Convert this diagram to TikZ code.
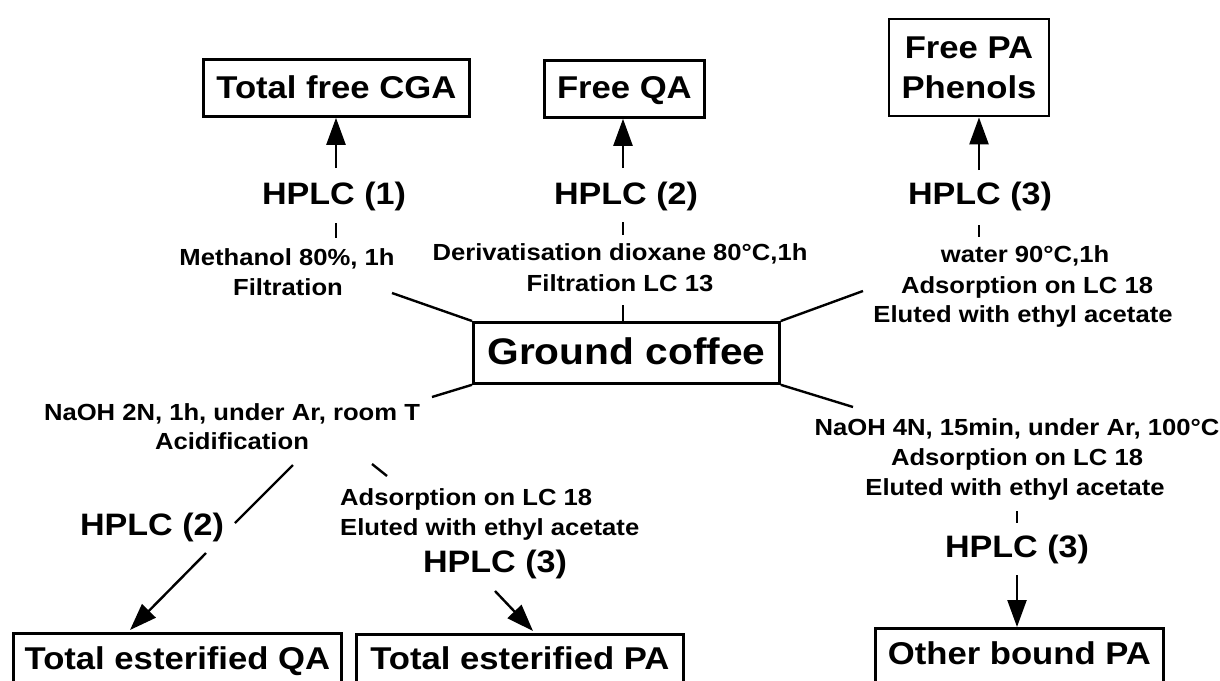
\documentclass[tikz,border=0pt]{standalone}
\usepackage{fontspec}
\setmainfont{Liberation Sans}[FakeStretch=1.1]
\usetikzlibrary{arrows.meta}
\begin{document}
\begin{tikzpicture}[x=1pt,y=-1pt,
  boxtext/.style={font=\fontsize{31.5}{40}\selectfont\bfseries},
  result/.style={draw, line width=2.8pt, inner sep=0pt, anchor=north west, boxtext},
  hplc/.style={font=\fontsize{31}{36}\selectfont\bfseries, inner sep=0pt, anchor=base},
  cond/.style={font=\fontsize{23.3}{28}\selectfont\bfseries, inner sep=0pt, anchor=base},
  link/.style={line width=2.4pt},
  arr/.style={line width=2.4pt, -{Triangle[length=27pt,width=19pt]}}]
\useasboundingbox (0,0) rectangle (1220,680);
\clip (0,0) rectangle (1220,680);
\fill[white] (0,0) rectangle (1220,680);

% central sample
\node[draw, line width=2.8pt, inner sep=0pt, anchor=north west,
      minimum width=306pt, text height=42pt, text depth=19pt,
      font=\fontsize{37}{44}\selectfont\bfseries] (gc) at (472,321) {Ground coffee};

% result boxes
\node[result, minimum width=266pt, text height=39pt, text depth=18pt] (tfc) at (202,58) {Total free CGA};
\node[result, minimum width=160pt, text height=38pt, text depth=19pt] (fqa) at (543,59) {Free QA};
\node[result, minimum width=160pt, minimum height=97pt, align=center, anchor=center] (fpa) at (969,67.5) {Free PA\\Phenols};
\node[result, minimum width=328pt, text height=36pt, text depth=34pt] (teqa) at (12,632) {Total esterified QA};
\node[result, minimum width=327pt, text height=35pt, text depth=34pt] (tepa) at (355,633) {Total esterified PA};
\node[result, minimum width=288pt, text height=36pt, text depth=39pt] (obpa) at (874,627) {Other bound PA};

% analysis labels
\node[hplc] (h1) at (334,204) {HPLC (1)};
\node[hplc] (h2) at (626,204) {HPLC (2)};
\node[hplc] (h3) at (980,204) {HPLC (3)};
\node[hplc] (hb2) at (152,535) {HPLC (2)};
\node[hplc] (hb3) at (495,572) {HPLC (3)};
\node[hplc] (hr3) at (1017,557) {HPLC (3)};

% extraction conditions
\node[cond] (m1) at (287,265) {Methanol 80\%, 1h};
\node[cond] (m2) at (288,295) {Filtration};
\node[cond] (d1) at (620,260) {Derivatisation dioxane 80°C,1h};
\node[cond] (d2) at (620,291) {Filtration LC 13};
\node[cond] (w1) at (1025,262) {water 90°C,1h};
\node[cond] (w2) at (1027,293) {Adsorption on LC 18};
\node[cond] (w3) at (1023,322) {Eluted with ethyl acetate};
\node[cond] (n1) at (232,420) {NaOH 2N, 1h, under Ar, room T};
\node[cond] (n2) at (232,449) {Acidification};
\node[cond, anchor=base west] (a1) at (340,505) {Adsorption on LC 18};
\node[cond, anchor=base west] (a2) at (340,535) {Eluted with ethyl acetate};
\node[cond] (r1) at (1017,435) {NaOH 4N, 15min, under Ar, 100°C};
\node[cond] (r2) at (1017,465) {Adsorption on LC 18};
\node[cond] (r3) at (1015,495) {Eluted with ethyl acetate};

% connector end points
\coordinate (cNW) at (392,293);
\coordinate (cN) at (623,305);
\coordinate (cNE) at (863,291);
\coordinate (cSW) at (432,397);
\coordinate (cSE) at (853,407);
\coordinate (t1a) at (336,223);  \coordinate (t1b) at (336,238);
\coordinate (t2a) at (623,222);  \coordinate (t2b) at (623,235);
\coordinate (t3a) at (979,225);  \coordinate (t3b) at (979,237);
\coordinate (s1) at (336,168);
\coordinate (s2) at (623,168);
\coordinate (s3) at (979,170);
\coordinate (bl1) at (293,465);  \coordinate (bl2) at (235,523);
\coordinate (bl3) at (206,553);  \coordinate (bl4) at (130,630);
\coordinate (bm1) at (372,464);  \coordinate (bm2) at (387,476);
\coordinate (bm3) at (495,591);  \coordinate (bm4) at (533,631);
\coordinate (br1) at (1017,511); \coordinate (br2) at (1017,523);
\coordinate (br3) at (1017,575);

% spokes from the sample
\draw[link] (gc.north west) -- (cNW);
\draw[link] (cN) -- (cN |- gc.north);
\draw[link] (gc.north east) -- (cNE);
\draw[link] (gc.south west) -- (cSW);
\draw[link] (gc.south east) -- (cSE);

% free fractions
\draw[link] (t1a) -- (t1b);
\draw[link] (t2a) -- (t2b);
\draw[link] (t3a) -- (t3b);
\draw[arr] (s1) -- (s1 |- tfc.south);
\draw[arr] (s2) -- (s2 |- fqa.south);
\draw[arr] (s3) -- (s3 |- fpa.south);

% bound fractions
\draw[link] (bl1) -- (bl2);
\draw[arr] (bl3) -- (bl4);
\draw[link] (bm1) -- (bm2);
\draw[arr] (bm3) -- (bm4);
\draw[link] (br1) -- (br2);
\draw[arr] (br3) -- (br3 |- obpa.north);
\end{tikzpicture}
\end{document}
